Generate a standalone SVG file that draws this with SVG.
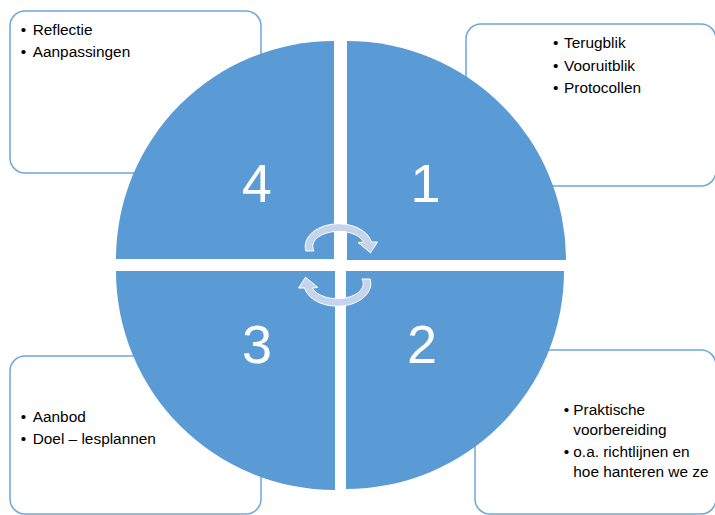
<svg xmlns="http://www.w3.org/2000/svg" width="715" height="515" viewBox="0 0 715 515">
  <style>
    .box { fill: #ffffff; stroke: #6FA7DC; stroke-width: 1.5; }
    .quad { fill: #5B9BD5; }
    .num { fill: #ffffff; font-family: "Liberation Sans", Arial, sans-serif; font-size: 54px; text-anchor: middle; }
    .txt { fill: #000000; font-family: "Liberation Sans", Arial, sans-serif; font-size: 15.4px; }
    .bul { fill: #000000; font-family: "Liberation Sans", Arial, sans-serif; font-size: 15.4px; text-anchor: middle; }
    .arr { fill: #C3D4EC; stroke: #ffffff; stroke-width: 1; stroke-linejoin: round; }
  </style>
  <rect width="715" height="515" fill="#ffffff"/>

  <g id="box-4">
    <rect class="box" x="10" y="11" width="251" height="162" rx="15"/>
    <text class="bul" x="23.5" y="35">•</text>
    <text class="txt" x="32.7" y="35">Reflectie</text>
    <text class="bul" x="23.5" y="57">•</text>
    <text class="txt" x="32.7" y="57">Aanpassingen</text>
  </g>
  <g id="box-1">
    <rect class="box" x="466" y="24" width="250" height="162" rx="15"/>
    <text class="bul" x="555.7" y="48.3">•</text>
    <text class="txt" x="564" y="48.3">Terugblik</text>
    <text class="bul" x="555.7" y="70.7">•</text>
    <text class="txt" x="564" y="70.7">Vooruitblik</text>
    <text class="bul" x="555.7" y="92.7">•</text>
    <text class="txt" x="564" y="92.7">Protocollen</text>
  </g>
  <g id="box-3">
    <rect class="box" x="10" y="356" width="251" height="158" rx="15"/>
    <text class="bul" x="23.5" y="421.7">•</text>
    <text class="txt" x="32.7" y="421.7">Aanbod</text>
    <text class="bul" x="23.5" y="444">•</text>
    <text class="txt" x="32.7" y="444">Doel – lesplannen</text>
  </g>
  <g id="box-2">
    <rect class="box" x="475" y="350" width="241" height="164" rx="15"/>
    <text class="bul" x="566.5" y="415">•</text>
    <text class="txt" x="573.3" y="415">Praktische</text>
    <text class="txt" x="573.3" y="435">voorbereiding</text>
    <text class="bul" x="566.5" y="456.7">•</text>
    <text class="txt" x="573.3" y="456.7">o.a. richtlijnen en</text>
    <text class="txt" x="573.3" y="476.7">hoe hanteren we ze</text>
  </g>

  <g id="quadrant-4">
    <path class="quad" d="M334,259 L116,259 A218,218 0 0 1 334,41 Z"/>
    <text class="num" x="256.7" y="202">4</text>
  </g>
  <g id="quadrant-1">
    <path class="quad" d="M347,260 L347,41 A219,219 0 0 1 566,260 Z"/>
    <text class="num" x="425.5" y="202">1</text>
  </g>
  <g id="quadrant-3">
    <path class="quad" d="M335,271 L335,490 A219,219 0 0 1 116,271 Z"/>
    <text class="num" x="257" y="363">3</text>
  </g>
  <g id="quadrant-2">
    <path class="quad" d="M346,271 L564,271 A218,218 0 0 1 346,489 Z"/>
    <text class="num" x="422" y="363">2</text>
  </g>

  <g id="connectors">
    <path id="arrow-top" class="arr" d="M305.8,251 A33.5,22.7 0 1 1 371.5,242 L377.5,242 L370.5,252.8 L358,242.5 L363.6,242 A26,15 0 1 0 314,251 Z"/>
    <path id="arrow-bottom" class="arr" transform="rotate(180 338 265)" d="M305.8,251 A33.5,22.7 0 1 1 371.5,242 L377.5,242 L370.5,252.8 L358,242.5 L363.6,242 A26,15 0 1 0 314,251 Z"/>
  </g>
</svg>
